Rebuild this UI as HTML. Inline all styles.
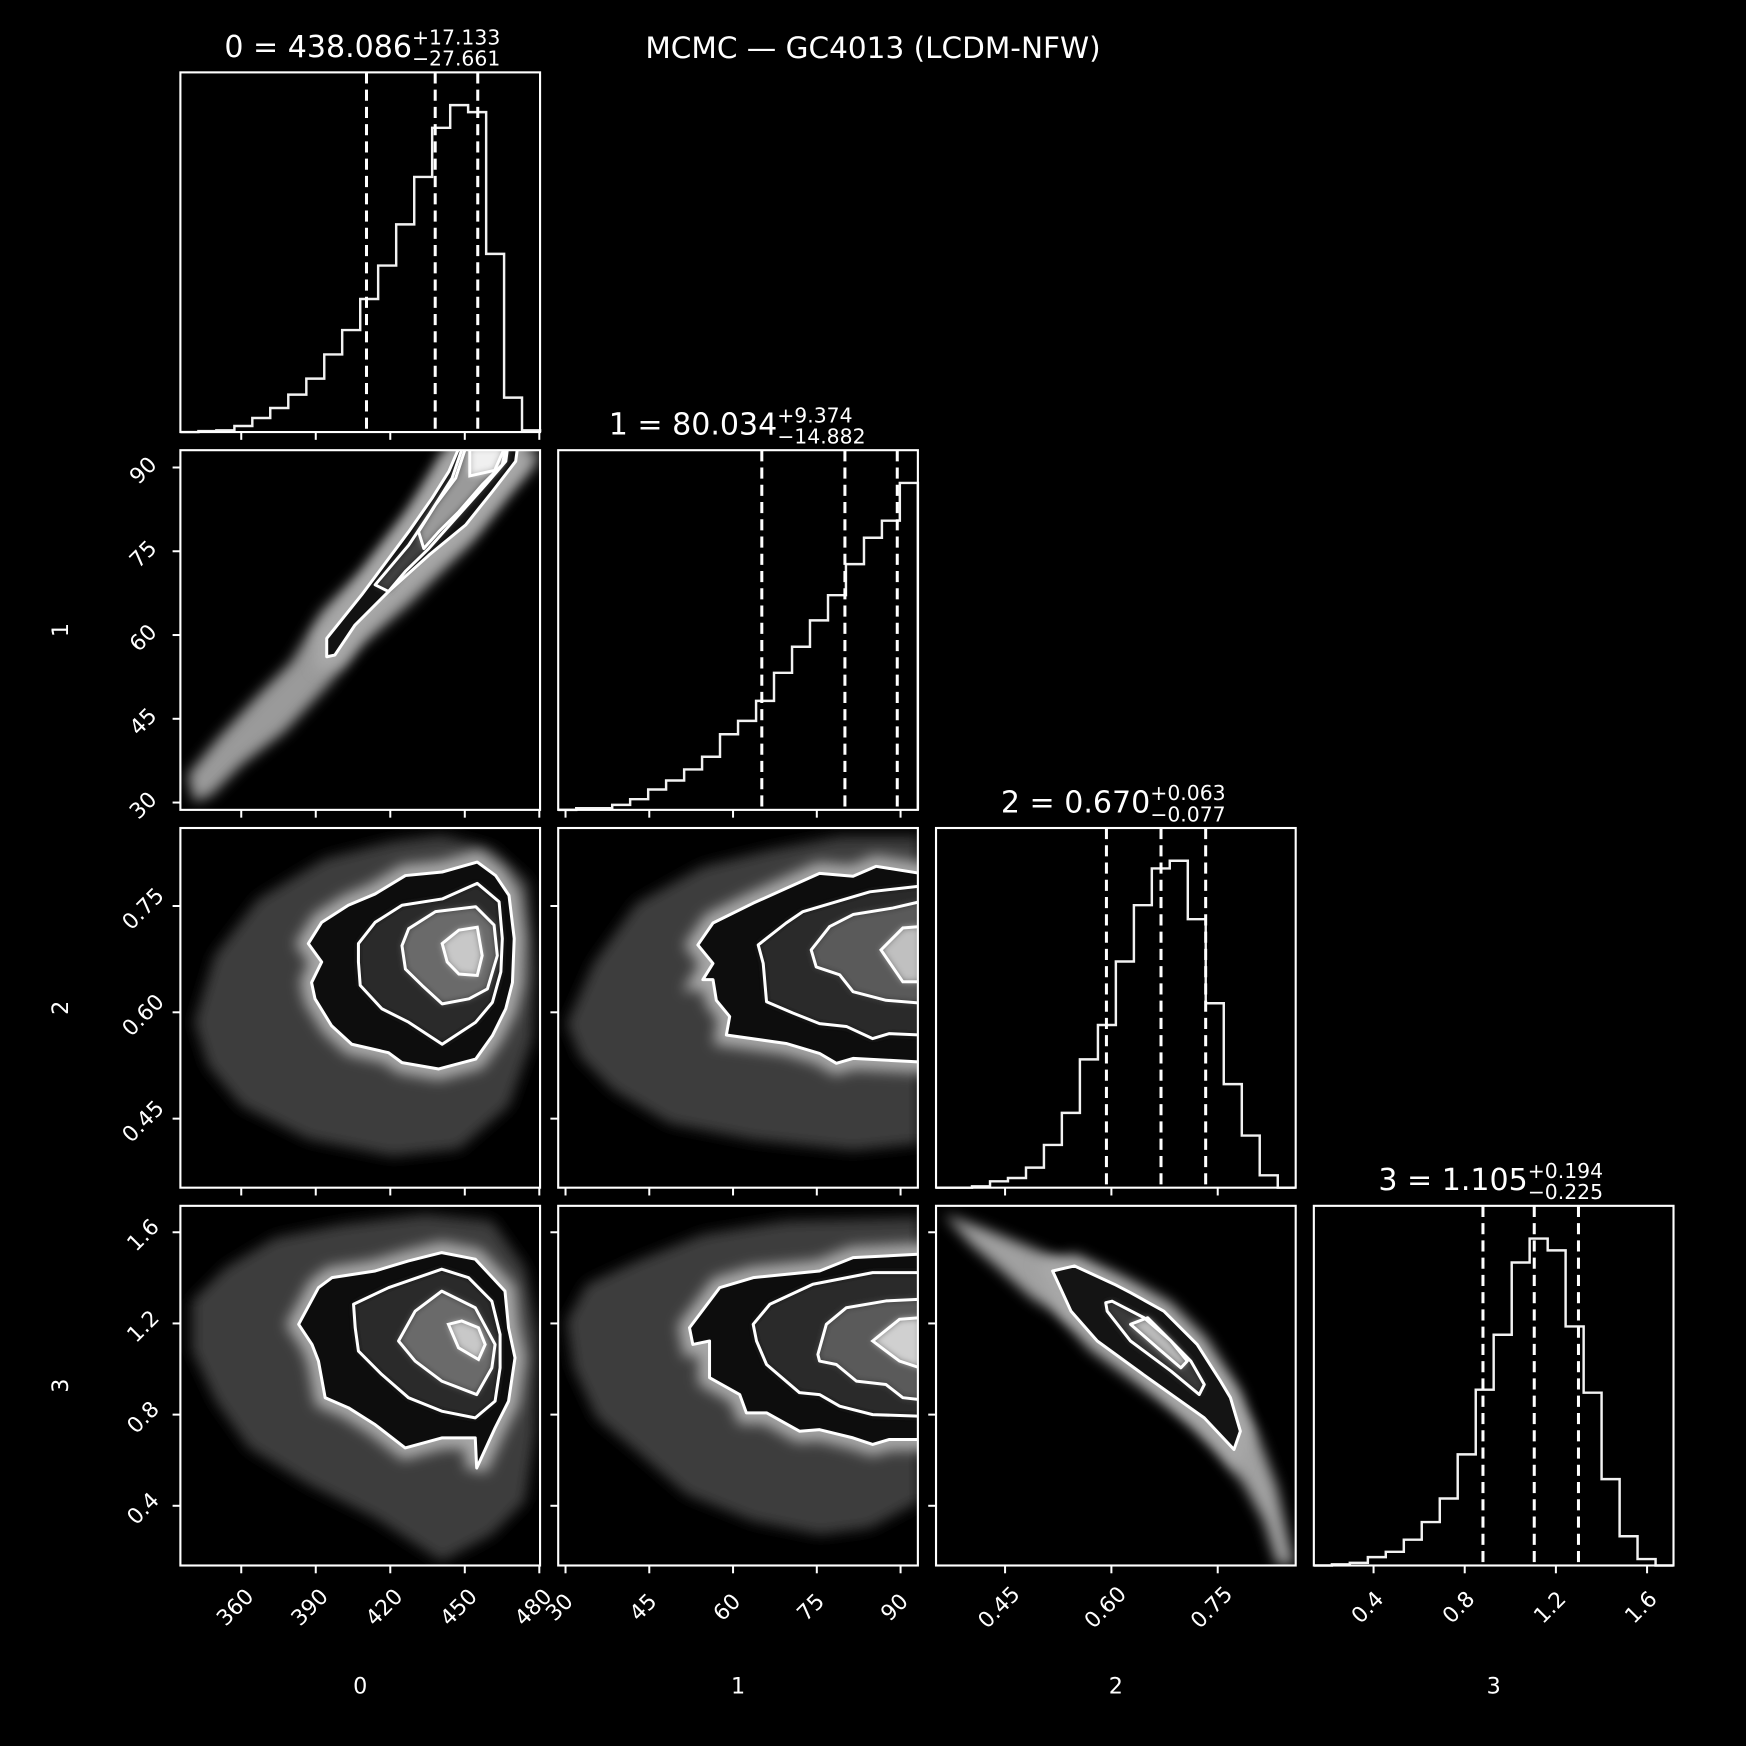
<!DOCTYPE html>
<html><head><meta charset="utf-8"><style>
html,body{margin:0;padding:0;background:#000;}
svg{display:block;}
text{font-family:"DejaVu Sans","Liberation Sans",sans-serif;fill:#fff;}
</style></head><body>
<svg id="fig" width="1746" height="1746" viewBox="0 0 1568 1568" xmlns="http://www.w3.org/2000/svg">
<defs>
<filter id="blur6" x="-20%" y="-20%" width="140%" height="140%"><feGaussianBlur stdDeviation="6"/></filter>
<filter id="blur3" x="-20%" y="-20%" width="140%" height="140%"><feGaussianBlur stdDeviation="3"/></filter>
</defs>
<rect x="0" y="0" width="1568" height="1568" fill="#000"/>
<text x="784" y="52" font-size="26.5" text-anchor="middle">MCMC — GC4013 (LCDM-NFW)</text>
</svg>
<script>
// ---- data ----
const paramNames = ["0","1","2","3"];
const rangeMin = [335.5, 28.69, 0.3526, 0.138];
const rangeMax = [480.3, 93.1, 0.860, 1.716];
const ticks0 = [360,390,420,450,480];
const ticks1 = [30,45,60,75,90];
const ticks2 = [0.45,0.60,0.75];
const ticks3 = [0.4,0.8,1.2,1.6];
const tickLabels0 = ["360","390","420","450","480"];
const tickLabels1 = ["30","45","60","75","90"];
const tickLabels2 = ["0.45","0.60","0.75"];
const tickLabels3 = ["0.4","0.8","1.2","1.6"];
const hist0 = [0,3,5,18,42,72,112,160,232,305,398,498,621,763,910,978,957,533,103,5];
const hist1 = [0,5,5,15,32,61,88,121,159,226,266,326,410,488,567,642,735,814,865,978];
const hist2 = [0,0,4,19,29,60,128,224,384,487,677,846,956,979,804,552,310,156,37,0];
const hist3 = [0,3,7,22,36,68,114,176,292,462,606,796,859,828,628,454,227,77,17,0];
const quant0 = [410.425,438.086,455.219];
const quant1 = [65.152,80.034,89.408];
const quant2 = [0.593,0.670,0.733];
const quant3 = [0.880,1.105,1.299];
const medians = ["438.086","80.034","0.670","1.105"];
const errPlus = ["+17.133","+9.374","+0.063","+0.194"];
const errMinus = ["−27.661","−14.882","−0.077","−0.225"];

// 2D panels: cloud outline and contour levels (data units: [x, y])
const cloud10 = [[338.4,34.9],[350.6,41.5],[366.7,49.2],[380.2,55.2],[392.4,64.2],[408.5,71.4],[427.4,82.1],[440.9,92.3],[480,93],[478.6,90.5],[467.8,85.1],[451.7,76.1],[427.4,65.4],[408.5,58.2],[395,51],[377.5,42.7],[360,36.7],[347.9,31.3],[341.1,30.1]];
const lev10a = [[394.4,56.1],[394.4,59.4],[408.5,67.2],[427.4,78.5],[436.8,84.5],[443.6,89.3],[447.6,93.5],[471.2,93.5],[470.5,91.1],[461.1,85.7],[450.3,79.7],[435.5,74.3],[419.3,67.8],[405.8,61.8],[397.7,56.4]];
const lev10b = [[413.9,69.0],[427.4,76.1],[435.5,81.5],[444.9,88.1],[449.0,93.5],[467.2,93.5],[466.5,91.1],[458.4,86.9],[446.3,80.9],[435.5,75.5],[426.1,71.4],[419.3,67.8]];
const lev10c = [[431.4,78.5],[438.2,83.3],[446.3,88.1],[450.3,93.5],[466.5,93.5],[465.1,90.5],[457.0,86.9],[447.6,82.1],[439.5,78.5],[433.5,75.5]];
const lev10d = [[452,93.5],[466,93.5],[462,89.5],[452,88.5]];

const cloud20 = [[341.1,0.586],[349.2,0.680],[366.7,0.760],[393.7,0.817],[420.7,0.841],[440.9,0.850],[461.1,0.831],[475.9,0.784],[478.6,0.657],[477.3,0.562],[467.8,0.468],[447.6,0.407],[420.7,0.397],[387.0,0.421],[360.0,0.468],[346.5,0.525]];
const lev20a = [[387.0,0.697],[392.4,0.727],[403.1,0.751],[413.9,0.767],[426.1,0.793],[440.9,0.798],[455.0,0.812],[462.4,0.793],[467.8,0.765],[469.9,0.704],[469.2,0.642],[466.5,0.605],[461.1,0.567],[454.4,0.534],[439.5,0.520],[424.7,0.529],[419.3,0.543],[404.5,0.555],[396.4,0.581],[389.7,0.619],[388.3,0.642],[392.4,0.671]];
const lev20b = [[407.2,0.697],[413.9,0.727],[424.7,0.751],[440.9,0.760],[455.0,0.782],[463.8,0.756],[465.1,0.704],[464.5,0.657],[461.1,0.614],[454.4,0.586],[440.9,0.555],[427.4,0.586],[416.6,0.605],[407.9,0.638],[407.2,0.671]];
const lev20c = [[424.7,0.694],[427.4,0.718],[438.2,0.742],[454.4,0.749],[461.8,0.723],[463.1,0.680],[459.1,0.633],[451.7,0.619],[440.9,0.612],[432.8,0.638],[426.1,0.661]];
const lev20d = [[440.9,0.697],[447.6,0.716],[455.0,0.720],[457.0,0.680],[455.0,0.652],[447.6,0.654],[442.9,0.671]];

const cloud30 = [[340.2,1.299],[353.6,1.445],[373.7,1.577],[400.5,1.635],[434.0,1.679],[460.9,1.650],[474.3,1.445],[479.6,1.152],[478.3,0.713],[474.3,0.420],[460.9,0.273],[440.7,0.156],[413.9,0.346],[387.1,0.493],[363.0,0.654],[349.6,0.859],[340.2,1.079]];
const lev30a = [[383.1,1.196],[391.1,1.357],[396.5,1.401],[413.9,1.430],[427.3,1.474],[440.7,1.511],[454.2,1.482],[466.2,1.342],[467.6,1.181],[470.2,1.049],[467.6,0.859],[462.2,0.742],[454.8,0.566],[454.2,0.698],[440.7,0.698],[426.0,0.654],[413.9,0.756],[403.2,0.830],[393.8,0.874],[391.1,1.035],[388.5,1.108]];
const lev30b = [[405.2,1.284],[419.3,1.357],[440.7,1.438],[451.5,1.401],[460.9,1.298],[464.2,1.152],[464.2,1.005],[462.2,0.859],[454.2,0.786],[440.7,0.815],[427.3,0.874],[416.6,0.976],[407.2,1.079],[405.9,1.181]];
const lev30c = [[423.3,1.123],[430.0,1.254],[440.7,1.342],[454.2,1.269],[462.2,1.108],[460.9,1.005],[454.8,0.888],[440.7,0.947],[430.0,1.035]];
const lev30d = [[443.4,1.196],[448.8,1.211],[455.5,1.181],[458.2,1.108],[455.5,1.042],[447.5,1.093]];

const cloud21 = [[30.2,0.584],[35.0,0.669],[42.7,0.754],[54.6,0.806],[66.6,0.829],[79.1,0.848],[93.5,0.848],[93.5,0.415],[81.5,0.405],[63.6,0.420],[48.7,0.443],[38.5,0.490],[32.6,0.537]];
const lev21a = [[53.7,0.695],[56.4,0.726],[63.6,0.754],[75.5,0.796],[81.5,0.792],[85.6,0.806],[93.5,0.796],[93.5,0.530],[81.5,0.535],[78.5,0.528],[75.5,0.542],[69.5,0.556],[58.8,0.568],[59.4,0.594],[57.0,0.617],[56.4,0.646],[54.6,0.646],[56.4,0.669]];
const lev21b = [[64.5,0.695],[69.5,0.726],[72.5,0.742],[84.5,0.770],[93.5,0.778],[93.5,0.568],[88.0,0.570],[85.0,0.563],[80.3,0.580],[75.5,0.584],[70.7,0.599],[66.0,0.615],[65.4,0.669]];
const lev21c = [[74.0,0.688],[77.3,0.721],[81.5,0.738],[88.6,0.747],[93.5,0.756],[93.5,0.613],[87.4,0.617],[81.5,0.629],[79.1,0.653],[74.9,0.664]];
const lev21d = [[86.5,0.688],[90.4,0.719],[93.5,0.721],[93.5,0.643],[90.4,0.643]];

const cloud31 = [[30.2,1.211],[33.8,1.372],[42.7,1.474],[54.6,1.591],[69.5,1.650],[93.5,1.665],[93.5,0.420],[84.5,0.302],[75.5,0.273],[63.6,0.332],[51.7,0.449],[42.7,0.639],[35.5,0.786],[31.4,1.005]];
const lev31a = [[52.2,1.181],[57.6,1.357],[63.6,1.401],[75.5,1.430],[81.5,1.489],[93.5,1.504],[93.5,0.691],[88.0,0.691],[85.0,0.669],[81.5,0.698],[75.5,0.734],[71.9,0.727],[66.0,0.808],[62.4,0.808],[61.2,0.888],[55.8,0.962],[55.8,1.123],[52.8,1.108]];
const lev31b = [[63.6,1.196],[66.6,1.284],[74.3,1.372],[85.0,1.423],[93.5,1.423],[93.5,0.793],[85.0,0.800],[79.1,0.837],[75.5,0.888],[71.9,0.896],[66.0,1.020],[64.2,1.123]];
const lev31c = [[75.2,1.064],[76.7,1.196],[80.3,1.269],[87.4,1.299],[93.5,1.306],[93.5,0.866],[90.4,0.874],[87.4,0.932],[82.1,0.947],[78.5,1.020],[75.5,1.035]];
const lev31d = [[85.0,1.123],[89.8,1.218],[93.5,1.225],[93.5,1.005],[89.8,1.035]];

const cloud32 = [[0.364,1.679],[0.416,1.621],[0.487,1.533],[0.557,1.445],[0.627,1.328],[0.698,1.152],[0.768,0.918],[0.806,0.713],[0.834,0.478],[0.848,0.273],[0.858,0.141],[0.834,0.141],[0.815,0.332],[0.787,0.493],[0.745,0.654],[0.698,0.800],[0.627,1.035],[0.557,1.181],[0.487,1.313],[0.440,1.445],[0.402,1.547]];
const lev32a = [[0.517,1.430],[0.548,1.452],[0.604,1.372],[0.627,1.335],[0.674,1.254],[0.721,1.108],[0.754,0.947],[0.768,0.874],[0.782,0.727],[0.773,0.647],[0.731,0.786],[0.651,0.962],[0.580,1.123],[0.543,1.254]];
const lev32b = [[0.592,1.291],[0.601,1.298],[0.646,1.225],[0.684,1.123],[0.712,1.035],[0.731,0.932],[0.724,0.888],[0.684,0.991],[0.627,1.123],[0.594,1.254]];
const lev32c = [[0.627,1.196],[0.651,1.225],[0.684,1.123],[0.707,1.035],[0.698,1.005],[0.665,1.093]];
const lev32d = [];

// ---- layout ----
const NS = "http://www.w3.org/2000/svg";
const svg = document.getElementById("fig");
const S = 323, STEP = 339.3, X0 = 162, Y0 = 65;
const histData = [hist0,hist1,hist2,hist3];
const quantData = [quant0,quant1,quant2,quant3];
const tickData = [ticks0,ticks1,ticks2,ticks3];
const tickLabelData = [tickLabels0,tickLabels1,tickLabels2,tickLabels3];
const panels2d = [
  {r:1,c:0,cloud:cloud10,lv:[lev10a,lev10b,lev10c,lev10d],cloudFill:"#9a9a9a",fills:["#121212","#404040","#9a9a9a","#f0f0f0"]},
  {r:2,c:0,cloud:cloud20,lv:[lev20a,lev20b,lev20c,lev20d],cloudFill:"#3c3c3c",fills:["#0d0d0d","#2a2a2a","#6a6a6a","#c8c8c8"]},
  {r:3,c:0,cloud:cloud30,lv:[lev30a,lev30b,lev30c,lev30d],cloudFill:"#3c3c3c",fills:["#0d0d0d","#2a2a2a","#6a6a6a","#c8c8c8"]},
  {r:2,c:1,cloud:cloud21,lv:[lev21a,lev21b,lev21c,lev21d],cloudFill:"#3c3c3c",fills:["#0d0d0d","#2a2a2a","#5a5a5a","#c0c0c0"]},
  {r:3,c:1,cloud:cloud31,lv:[lev31a,lev31b,lev31c,lev31d],cloudFill:"#3c3c3c",fills:["#0d0d0d","#2a2a2a","#5a5a5a","#d0d0d0"]},
  {r:3,c:2,cloud:cloud32,lv:[lev32a,lev32b,lev32c,lev32d],cloudFill:"#a0a0a0",fills:["#141414","#3a3a3a","#bbbbbb","#ffffff"]}
];

function bx(c){ return X0 + c*STEP; }
function by(r){ return Y0 + r*STEP; }
function sx(p, c, v){ return bx(c) + (v - rangeMin[p])/(rangeMax[p]-rangeMin[p])*S; }
function sy(p, r, v){ return by(r) + S - (v - rangeMin[p])/(rangeMax[p]-rangeMin[p])*S; }
function make(tag){ return document.createElementNS(NS, tag); }
function polyPts(pts, px, py, r, c){
  return pts.map(d => sx(px,c,d[0]).toFixed(1)+","+sy(py,r,d[1]).toFixed(1)).join(" ");
}

function drawFrame(r, c, g){
  const fr = make("rect");
  fr.setAttribute("x", bx(c)); fr.setAttribute("y", by(r));
  fr.setAttribute("width", S); fr.setAttribute("height", S);
  fr.setAttribute("fill", "none"); fr.setAttribute("stroke", "#fff"); fr.setAttribute("stroke-width", "1.9");
  
  
  g.appendChild(fr);
}

function drawXTicks(p, r, c, g, labels){
  tickData[p].forEach((t, i) => {
    const x = sx(p, c, t);
    const tk = make("line");
    tk.setAttribute("x1", x); tk.setAttribute("x2", x);
    tk.setAttribute("y1", by(r)+S); tk.setAttribute("y2", by(r)+S+7);
    tk.setAttribute("stroke", "#fff"); tk.setAttribute("stroke-width", "1.8");
    
    
    g.appendChild(tk);
    if (labels){
      const tx = make("text");
      const cx = x - 5, cy = by(r)+S+38;
      tx.setAttribute("x", cx); tx.setAttribute("y", cy);
      tx.setAttribute("font-size", "19.5");
      tx.setAttribute("text-anchor", "middle");
      tx.setAttribute("dominant-baseline", "central");
      tx.setAttribute("transform", "rotate(-45 "+cx+" "+cy+")");
      tx.textContent = tickLabelData[p][i];
      
      
      g.appendChild(tx);
    }
  });
}

function drawYTicks(p, r, c, g, labels){
  tickData[p].forEach((t, i) => {
    const y = sy(p, r, t);
    const tk = make("line");
    tk.setAttribute("x1", bx(c)-7); tk.setAttribute("x2", bx(c));
    tk.setAttribute("y1", y); tk.setAttribute("y2", y);
    tk.setAttribute("stroke", "#fff"); tk.setAttribute("stroke-width", "1.8");
    
    
    g.appendChild(tk);
    if (labels){
      const tx = make("text");
      const cx = bx(c)-33, cy = y + 3;
      tx.setAttribute("x", cx); tx.setAttribute("y", cy);
      tx.setAttribute("font-size", "19.5");
      tx.setAttribute("text-anchor", "middle");
      tx.setAttribute("dominant-baseline", "central");
      tx.setAttribute("transform", "rotate(-45 "+cx+" "+cy+")");
      tx.textContent = tickLabelData[p][i];
      
      
      g.appendChild(tx);
    }
  });
}

// ---- diagonal histograms ----
const scriptX = [370, 698, 1033, 1372];
for (let k = 0; k < 4; k++){
  const g = make("g");
  
  
  svg.appendChild(g);
  const h = histData[k];
  const maxC = Math.max(...h) * 1.1;
  const n = h.length;
  const edge = i => rangeMin[k] + i*(rangeMax[k]-rangeMin[k])/n;
  const base = by(k) + S;
  const yv = v => base - v/maxC*S;
  let d = "M"+sx(k,k,edge(0)).toFixed(1)+","+base.toFixed(1);
  for (let i = 0; i < n; i++){
    d += " V"+yv(h[i]).toFixed(1)+" H"+sx(k,k,edge(i+1)).toFixed(1);
  }
  d += " V"+base.toFixed(1);
  const path = make("path");
  path.setAttribute("d", d);
  path.setAttribute("fill", "none"); path.setAttribute("stroke", "#f2f2f2"); path.setAttribute("stroke-width", "2.2");
  
  
  g.appendChild(path);
  quantData[k].forEach((q, qi) => {
    const ln = make("line");
    const x = sx(k,k,q);
    ln.setAttribute("x1", x); ln.setAttribute("x2", x);
    ln.setAttribute("y1", by(k)); ln.setAttribute("y2", base);
    ln.setAttribute("stroke", "#fff"); ln.setAttribute("stroke-width", "2.7");
    ln.setAttribute("stroke-dasharray", "10 5.5");
    
    
    g.appendChild(ln);
  });
  drawFrame(k, k, g);
  drawXTicks(k, k, k, g, k === 3);
  const ty = by(k) - 14;
  const t1 = make("text");
  t1.setAttribute("x", scriptX[k]); t1.setAttribute("y", ty);
  t1.setAttribute("font-size", "27"); t1.setAttribute("text-anchor", "end");
  t1.textContent = paramNames[k] + " = " + medians[k];
  
  
  g.appendChild(t1);
  const t2 = make("text");
  t2.setAttribute("x", scriptX[k]); t2.setAttribute("y", ty - 11);
  t2.setAttribute("font-size", "18.3");
  t2.textContent = errPlus[k];
  
  
  g.appendChild(t2);
  const t3 = make("text");
  t3.setAttribute("x", scriptX[k]); t3.setAttribute("y", ty + 8);
  t3.setAttribute("font-size", "18.3");
  t3.textContent = errMinus[k];
  
  
  g.appendChild(t3);
}

// ---- 2D panels ----
const defs = svg.querySelector("defs");
panels2d.forEach((P, idx) => {
  const r = P.r, c = P.c;
  const cp = make("clipPath");
  cp.setAttribute("id", "clip"+idx);
  const cr = make("rect");
  cr.setAttribute("x", bx(c)); cr.setAttribute("y", by(r)); cr.setAttribute("width", S); cr.setAttribute("height", S);
  cp.appendChild(cr);
  defs.appendChild(cp);
  const g = make("g");
  
  
  svg.appendChild(g);
  const inner = make("g");
  inner.setAttribute("clip-path", "url(#clip"+idx+")");
  g.appendChild(inner);
  const cl = make("polygon");
  cl.setAttribute("points", polyPts(P.cloud, c, r, r, c));
  cl.setAttribute("fill", P.cloudFill); cl.setAttribute("filter", "url(#blur6)");
  
  
  inner.appendChild(cl);
  const halo = make("polygon");
  halo.setAttribute("points", polyPts(P.lv[0], c, r, r, c));
  halo.setAttribute("fill", "none"); halo.setAttribute("stroke", "#a8a8a8"); halo.setAttribute("stroke-width", "20");
  halo.setAttribute("filter", "url(#blur6)");
  
  
  inner.appendChild(halo);
  P.lv.forEach((lv, li) => {
    if (!lv.length) return;
    const pf = make("polygon");
    pf.setAttribute("points", polyPts(lv, c, r, r, c));
    pf.setAttribute("fill", P.fills[li]);
    if (li > 0) pf.setAttribute("filter", "url(#blur3)");
    
    
    inner.appendChild(pf);
  });
  P.lv.forEach((lv, li) => {
    if (!lv.length || li > 2) return;
    const ps = make("polygon");
    ps.setAttribute("points", polyPts(lv, c, r, r, c));
    ps.setAttribute("fill", "none"); ps.setAttribute("stroke", "#fff"); ps.setAttribute("stroke-width", "2.7");
    ps.setAttribute("stroke-linejoin", "round");
    
    
    inner.appendChild(ps);
  });
  if (P.lv[3].length){
    const ps = make("polygon");
    ps.setAttribute("points", polyPts(P.lv[3], c, r, r, c));
    ps.setAttribute("fill", "none"); ps.setAttribute("stroke", "#fff"); ps.setAttribute("stroke-width", "2.7");
    
    
    inner.appendChild(ps);
  }
  drawFrame(r, c, g);
  drawXTicks(c, r, c, g, r === 3);
  drawYTicks(r, r, c, g, c === 0);
});

// ---- axis labels ----
for (let k = 0; k < 4; k++){
  const t = make("text");
  t.setAttribute("x", bx(k) + S/2); t.setAttribute("y", 1521);
  t.setAttribute("font-size", "20"); t.setAttribute("text-anchor", "middle");
  t.textContent = paramNames[k];
  
  
  svg.appendChild(t);
}
for (let k = 1; k < 4; k++){
  const t = make("text");
  const cx = 55, cy = by(k) + S/2;
  t.setAttribute("x", cx); t.setAttribute("y", cy);
  t.setAttribute("font-size", "20"); t.setAttribute("text-anchor", "middle");
  t.setAttribute("dominant-baseline", "central");
  t.setAttribute("transform", "rotate(-90 "+cx+" "+cy+")");
  t.textContent = paramNames[k];
  
  
  svg.appendChild(t);
}
</script>
</body></html>
